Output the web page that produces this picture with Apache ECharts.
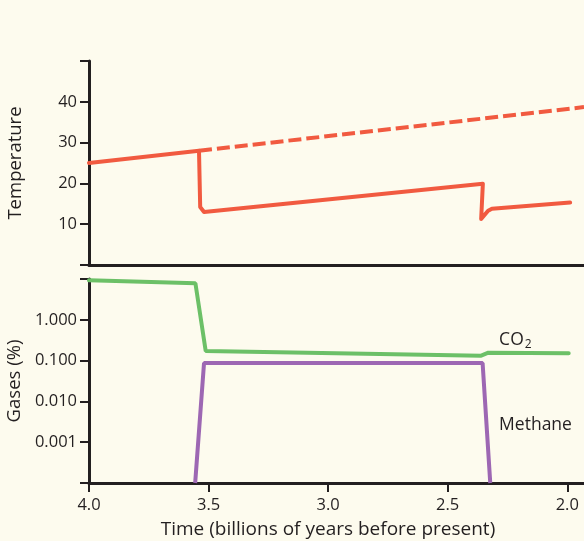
<!DOCTYPE html>
<html lang="en">
<head>
<meta charset="UTF-8">
<title>Temperature and gases</title>
<script src="https://cdn.jsdelivr.net/npm/echarts@6/dist/echarts.min.js"></script>
<style>
  html, body { margin: 0; padding: 0; background: #fdfbee; }
  #main { width: 584px; height: 541px; }
</style>
</head>
<body>
<div id="main"></div>
<script>
// time in billions of years before present
var tempSolid = [[4.0, 25.0], [3.54, 28.0], [3.535, 14.2], [3.519, 13.0], [2.353, 19.9], [2.36, 11.3], [2.331, 13.3], [2.315, 13.8], [1.988, 15.3]];
var tempDashed = [[3.54, 28.0], [1.93, 38.7]];
var co2 = [[4.0, 9.3], [3.555, 7.9], [3.512, 0.172], [2.36, 0.132], [2.33, 0.156], [1.994, 0.152]];
var methane = [[3.556, 0.0001], [3.519, 0.087], [2.354, 0.087], [2.322, 0.0001]];
var timeTicks = [2.0, 2.5, 3.0, 3.5, 4.0];
var tempTicks = [10, 20, 30, 40];
var gasTicks = [0.001, 0.01, 0.1, 1];

var ink = '#231f20';
var font = 'Open Sans';

var chart = echarts.init(document.getElementById('main'));
var option = {
    backgroundColor: '#fdfbee',
    animation: false,
    textStyle: { fontFamily: font },
    grid: [
        { left: 89, right: 0, top: 61, height: 204, outerBoundsMode: 'none', containLabel: false },
        { left: 89, right: 0, top: 279, height: 204, outerBoundsMode: 'none', containLabel: false }
    ],
    xAxis: [{
        gridIndex: 0,
        type: 'value',
        min: 1.93, max: 4.0,
        inverse: true,
        axisLine: { show: true, lineStyle: { color: ink, width: 3 } },
        axisTick: { show: false },
        axisLabel: { show: false },
        splitLine: { show: false }
    }, {
        gridIndex: 1,
        type: 'value',
        min: 1.93, max: 4.0,
        inverse: true,
        name: 'Time (billions of years before present)',
        nameLocation: 'middle',
        nameGap: 37,
        nameTextStyle: { fontSize: 19, color: ink, padding: [0, 17, 0, 0] },
        axisLine: { show: true, lineStyle: { color: ink, width: 3 } },
        axisTick: { show: true, length: 9, lineStyle: { width: 2 }, customValues: timeTicks },
        axisLabel: {
            customValues: timeTicks, margin: 14, fontSize: 16.5, color: ink,
            formatter: function (v) { return v.toFixed(1); }
        },
        splitLine: { show: false }
    }],
    yAxis: [{
        gridIndex: 0,
        type: 'value',
        min: 0, max: 50, interval: 10,
        name: 'Temperature',
        nameLocation: 'middle',
        nameGap: 64,
        nameRotate: 90,
        nameTextStyle: { fontSize: 18.5, color: ink },
        axisLine: { show: true, lineStyle: { color: ink, width: 3 } },
        axisTick: { show: true, length: 9, lineStyle: { width: 2 } },
        axisLabel: {
            margin: 12, fontSize: 16.5, color: ink,
            formatter: function (v) { return tempTicks.indexOf(v) >= 0 ? String(v) : ''; }
        },
        splitLine: { show: false }
    }, {
        gridIndex: 1,
        type: 'log',
        logBase: 10,
        min: 0.0001, max: 10,
        name: 'Gases (%)',
        nameLocation: 'middle',
        nameGap: 64,
        nameRotate: 90,
        nameTextStyle: { fontSize: 18.5, color: ink },
        axisLine: { show: true, lineStyle: { color: ink, width: 3 } },
        axisTick: { show: true, length: 9, lineStyle: { width: 2 } },
        axisLabel: {
            margin: 12, fontSize: 16.5, color: ink,
            formatter: function (v) {
                for (var i = 0; i < gasTicks.length; i++) {
                    if (Math.abs(v - gasTicks[i]) < gasTicks[i] * 1e-6) return gasTicks[i].toFixed(3);
                }
                return '';
            }
        },
        splitLine: { show: false }
    }],
    series: [{
        type: 'line', xAxisIndex: 0, yAxisIndex: 0,
        data: tempDashed, symbol: 'none', z: 2,
        lineStyle: { color: '#f15a40', width: 4, type: [13, 5] }
    }, {
        type: 'line', xAxisIndex: 0, yAxisIndex: 0,
        data: tempSolid, symbol: 'none', z: 3,
        lineStyle: { color: '#f15a40', width: 4, join: 'round', cap: 'round' }
    }, {
        type: 'line', xAxisIndex: 1, yAxisIndex: 1,
        data: methane, symbol: 'none', z: 2,
        lineStyle: { color: '#9d67b3', width: 4 },
        markPoint: {
            symbol: 'circle', symbolSize: 0,
            data: [{ coord: [2.285, 0.0026], value: 'Methane' }],
            label: { show: true, position: 'inside', align: 'left', fontSize: 17.5, color: ink, formatter: 'Methane' }
        }
    }, {
        type: 'line', xAxisIndex: 1, yAxisIndex: 1,
        data: co2, symbol: 'none', z: 3,
        lineStyle: { color: '#6cc067', width: 4, cap: 'round' },
        markPoint: {
            symbol: 'circle', symbolSize: 0,
            data: [{ coord: [2.285, 0.32], value: 'CO2' }],
            label: {
                show: true, position: 'inside', align: 'left', color: ink,
                formatter: '{a|CO}{b|2}',
                rich: {
                    a: { fontSize: 17.5, color: ink, fontFamily: font },
                    b: { fontSize: 12, color: ink, fontFamily: font, padding: [9, 0, 0, 1] }
                }
            }
        }
    }]
};
chart.setOption(option);
</script>
</body>
</html>
